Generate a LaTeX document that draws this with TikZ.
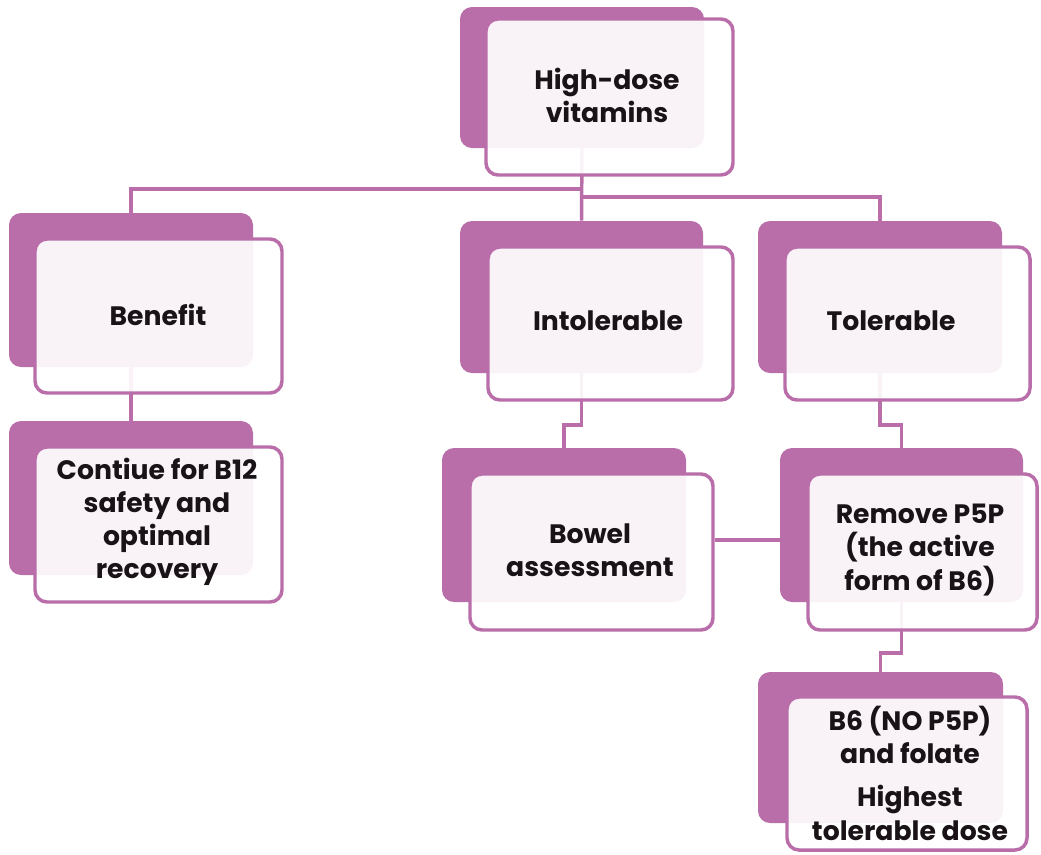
\documentclass[tikz,border=0pt]{standalone}
\usepackage{fontspec}
\setmainfont{Poppins}
\usetikzlibrary{fit}
\definecolor{vio}{RGB}{185,110,170}
\definecolor{ink}{RGB}{25,18,22}
\begin{document}
\begin{tikzpicture}[x=0.75pt,y=-0.75pt,
 backbox/.style={fill=vio, rounded corners=9pt, inner sep=0pt, draw=none},
 frontbox/.style={draw=vio, line width=2.6pt, fill=white, fill opacity=0.92, rounded corners=9pt, inner sep=0pt},
 link/.style={draw=vio, line width=2.6pt},
 lbl/.style={align=center, text=ink, font=\bfseries\fontsize{20}{24.8}\selectfont}]
\useasboundingbox (0,0) rectangle (1041,854);
% back boxes
\node[backbox, fit={(460,7)(704,148)}] (topb) {};
\node[backbox, fit={(9,213)(253,367)}] (benb) {};
\node[backbox, fit={(460,221)(703,373)}] (intb) {};
\node[backbox, fit={(758,221)(1002,373)}] (tolb) {};
\node[backbox, fit={(9,421)(253,575)}] (conb) {};
\node[backbox, fit={(442,448)(686,602)}] (bowb) {};
\node[backbox, fit={(780,448)(1023,602)}] (remb) {};
\node[backbox, fit={(758,672)(1003,823)}] (b6b) {};
% helper coordinates
\coordinate (j1) at (582,189);
\coordinate (j2) at (582,197);
\coordinate (h1) at (0,425);
\coordinate (h2) at (0,540);
\coordinate (h3) at (0,653);
% links
\draw[link] (topb.south) -- (intb.north);
\draw[link] (j1) -| (benb.north);
\draw[link] (j2) -| (tolb.north);
\draw[link] (benb.south) -- (conb.north);
\draw[link] (intb.south) -- (intb.south |- h1) -| (bowb.north);
\draw[link] (tolb.south) -- (tolb.south |- h1) -| (remb.north);
\draw[link] (remb.south) -- (remb.south |- h3) -| (b6b.north);
% front boxes
\node[frontbox, fit={(486,19)(733,175)}] (top) {};
\node[frontbox, fit={(35,239)(282,393)}] (ben) {};
\node[frontbox, fit={(488,247)(733,400)}] (int) {};
\node[frontbox, fit={(785,247)(1030,400)}] (tol) {};
\node[frontbox, fit={(35,447)(282,602)}] (con) {};
\node[frontbox, fit={(470,474)(713,630)}] (bow) {};
\node[frontbox, fit={(808,474)(1037,630)}] (rem) {};
\node[frontbox, fit={(787,697)(1027,850)}] (b6) {};
\draw[link] (bow.east |- h2) -- (remb.west |- h2);
% texts
\node[lbl] (topt) at (607,95) {High-dose\\vitamins};
\node[lbl] (bent) at (158,315) {Benefit};
\node[lbl] (intt) at (608,321) {Intolerable};
\node[lbl] (tolt) at (891,321) {Tolerable};
\node[lbl] (cont) at (157,522) {Contiue for B12\\safety and\\optimal\\recovery};
\node[lbl] (bowt) at (590,550) {Bowel\\assessment};
\node[lbl] (remt) at (920,550) {Remove P5P\\(the active\\form of B6)};
\node[lbl] (b6t) at (910,773) {B6 (NO P5P)\\and folate\\[0.4em]Highest\\tolerable dose};
\end{tikzpicture}
\end{document}
